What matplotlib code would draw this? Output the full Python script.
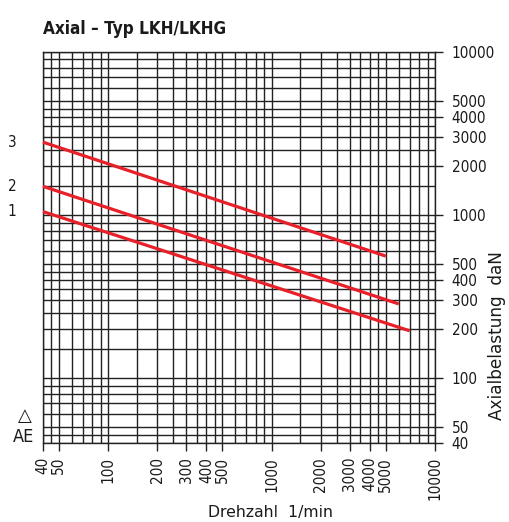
import matplotlib
matplotlib.use("Agg")
import matplotlib.pyplot as plt
from matplotlib.ticker import FixedLocator

plt.rcParams['font.family'] = ['DejaVu Sans']
plt.rcParams['font.stretch'] = 'condensed'

# grid values (same on both log axes)
grid_vals = [40, 45, 50, 60, 70, 80, 90, 100, 150, 200, 250, 300, 350, 400, 450,
             500, 600, 700, 800, 900, 1000, 1500, 2000, 2500, 3000, 3500, 4000,
             4500, 5000, 6000, 7000, 8000, 9000, 10000]
x_ticks = [40, 50, 100, 200, 300, 400, 500, 1000, 2000, 3000, 4000, 5000, 10000]
y_ticks = [40, 50, 100, 200, 300, 400, 500, 1000, 2000, 3000, 4000, 5000, 10000]

# curves: speed (1/min) vs axial load (daN)
curve_names = ['1', '2', '3']
speed_1 = [40, 7000]
load_1 = [1050, 195]
speed_2 = [40, 6000]
load_2 = [1500, 285]
speed_3 = [40, 5000]
load_3 = [2800, 560]

fig = plt.figure(figsize=(5.09, 5.22), dpi=100)
ax = fig.add_axes([43 / 509, 1 - 443 / 522, 392 / 509, 391 / 522])
ax.set_xscale('log')
ax.set_yscale('log')
ax.set_xlim(40, 10000)
ax.set_ylim(40, 10000)

grid_col = '#222222'
for v in grid_vals:
    ax.axvline(v, color=grid_col, lw=1.0, zorder=1)
    ax.axhline(v, color=grid_col, lw=1.0, zorder=1)

red = '#e8202a'
for sp, ld in [(speed_1, load_1), (speed_2, load_2), (speed_3, load_3)]:
    ax.plot(sp, ld, color=red, lw=2.3, solid_capstyle='butt', zorder=3, clip_on=False)

for s in ax.spines.values():
    s.set_color(grid_col)
    s.set_linewidth(1.0)

ax.xaxis.set_major_locator(FixedLocator(x_ticks))
ax.xaxis.set_minor_locator(FixedLocator([]))
ax.yaxis.set_major_locator(FixedLocator(y_ticks))
ax.yaxis.set_minor_locator(FixedLocator([]))
ax.set_xticklabels([str(v) for v in x_ticks], rotation=90, fontsize=11)
ax.set_yticklabels([str(v) for v in y_ticks], fontsize=11)
ax.yaxis.tick_right()
ax.tick_params(axis='both', length=6, width=1.0, color=grid_col, pad=4, labelcolor='#1a1a1a')
ax.tick_params(axis='y', pad=6)

# curve numbers on the left
for name, ld in zip(curve_names, [load_1, load_2, load_3]):
    ax.text(-0.079, ld[0], name, transform=ax.get_yaxis_transform(),
            ha='center', va='center', fontsize=11, color='#1a1a1a')

fig.text(25 / 509, 1 - 416 / 522, '△', ha='center', va='center', fontsize=13,
         stretch='normal', color='#1a1a1a')
fig.text(24 / 509, 1 - 437 / 522, 'AE', ha='center', va='center', fontsize=13, color='#1a1a1a')

fig.text(43 / 509, 1 - 29 / 522, 'Axial – Typ LKH/LKHG', ha='left', va='center',
         fontsize=12.3, fontweight='bold', color='#1a1a1a')
fig.text(270 / 509, 1 - 512 / 522, 'Drehzahl  1/min', ha='center', va='center',
         fontsize=11.3, stretch='normal', color='#1a1a1a')
fig.text(497 / 509, 1 - 336 / 522, 'Axialbelastung  daN', ha='center', va='center',
         rotation=90, fontsize=12.2, stretch='normal', color='#1a1a1a')

fig.savefig('out.png', dpi=100)
